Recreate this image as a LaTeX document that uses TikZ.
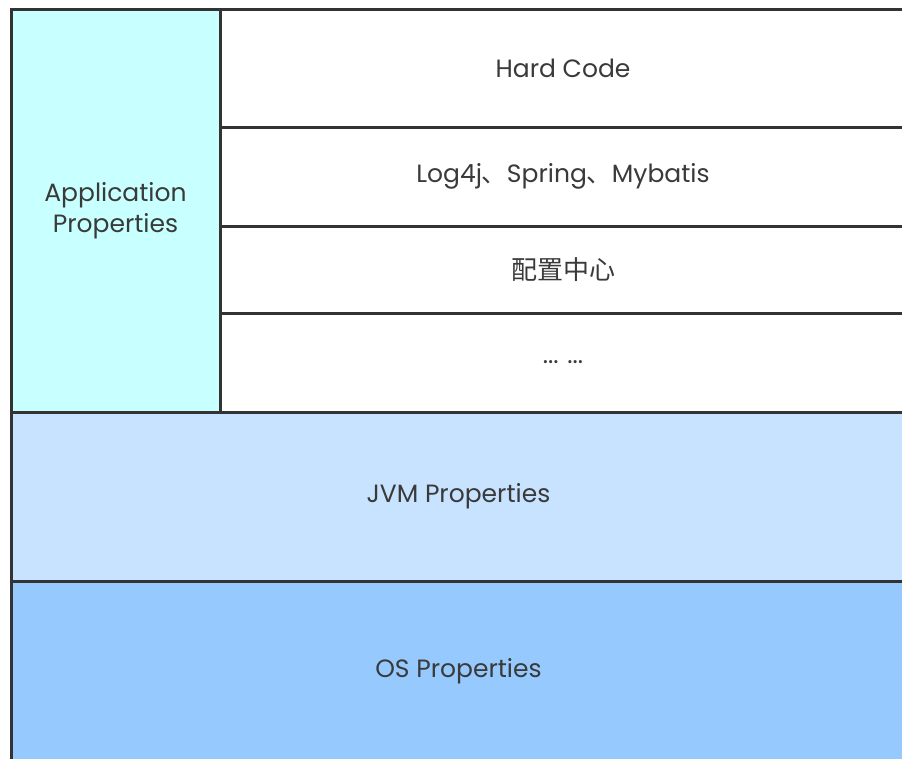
\documentclass[tikz,border=0pt]{standalone}
\usepackage{fontspec}
\setmainfont{Poppins}
\newfontfamily\cjk{Noto Sans CJK SC}
\usetikzlibrary{positioning}
\definecolor{appcyan}{HTML}{C8FFFF}
\definecolor{jvmblue}{HTML}{C8E3FF}
\definecolor{osblue}{HTML}{96CAFF}
\definecolor{edgegray}{HTML}{333333}
\definecolor{textgray}{HTML}{3A3A3A}

\begin{document}
\begin{tikzpicture}[x=1pt,y=-1pt,
    layer/.style={rectangle, draw=edgegray, line width=3pt, inner sep=0pt, outer sep=0pt,
      text=textgray, font=\fontsize{25}{31}\selectfont, align=center},
    row/.style={layer, fill=white, minimum width=686pt}]
    \useasboundingbox (0,0) rectangle (902,758);
    \node[layer, fill=appcyan, minimum width=209pt, minimum height=403pt, anchor=north west] (app) at (11,9) {Application\\Properties};
    \node[row, minimum height=118pt, anchor=north west] (hard) at (app.north east) {Hard Code};
    \node[row, minimum height=99pt, below=0pt of hard] (frame) {Log4j{\cjk 、}Spring{\cjk 、}Mybatis};
    \node[row, minimum height=87pt, below=0pt of frame] (center) {\cjk\fontsize{26}{31}\selectfont 配置中心};
    \node[row, minimum height=99pt, below=0pt of center] (more) {... ...};
    \node[layer, fill=jvmblue, minimum width=895pt, minimum height=169pt, below right=0pt of app.south west] (jvm) {JVM Properties};
    \node[layer, fill=osblue, minimum width=895pt, minimum height=181pt, below=0pt of jvm] (os) {OS Properties};
  \end{tikzpicture}
\end{document}
